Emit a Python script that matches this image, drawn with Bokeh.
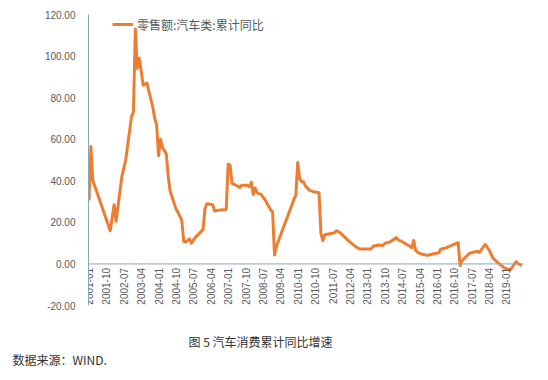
from bokeh.plotting import figure
from bokeh.models import Range1d, FixedTicker, NumeralTickFormatter, Span, Title, Legend, LegendItem, ColumnDataSource
from bokeh.core.properties import value
from bokeh.embed import file_html
from bokeh.resources import INLINE
import math

# ---- data ----
months = ["2001-01", "2001-02", "2001-03", "2001-04", "2001-12", "2002-02", "2002-03", "2002-06",
          "2002-08", "2002-10", "2002-11", "2002-12", "2003-01", "2003-02", "2003-03", "2003-04",
          "2003-05", "2003-07", "2003-08", "2003-10", "2003-11", "2003-12", "2004-01", "2004-02",
          "2004-03", "2004-05", "2004-06", "2004-07", "2004-10", "2004-11", "2005-01", "2005-02",
          "2005-03", "2005-05", "2005-06", "2005-08", "2005-12", "2006-01", "2006-02", "2006-05",
          "2006-06", "2006-09", "2006-12", "2007-01", "2007-02", "2007-03", "2007-05", "2007-07",
          "2007-08", "2007-11", "2007-12", "2008-01", "2008-02", "2008-03", "2008-04", "2008-06",
          "2008-08", "2008-11", "2008-12", "2009-01", "2009-02", "2009-11", "2009-12", "2010-01",
          "2010-02", "2010-03", "2010-04", "2010-05", "2010-07", "2010-09", "2010-12", "2011-01",
          "2011-02", "2011-03", "2011-05", "2011-08", "2011-09", "2011-11", "2012-02", "2012-04",
          "2012-07", "2012-09", "2013-03", "2013-04", "2013-07", "2013-09", "2013-10", "2014-01",
          "2014-04", "2014-05", "2014-07", "2014-11", "2014-12", "2015-01", "2015-02", "2015-03",
          "2015-05", "2015-08", "2015-11", "2016-02", "2016-03", "2016-05", "2016-09", "2016-12",
          "2017-01", "2017-02", "2017-06", "2017-10", "2017-11", "2018-02", "2018-04", "2018-06",
          "2018-09", "2018-12", "2019-03", "2019-04", "2019-06", "2019-07", "2019-09"]
yoy = [30.5, 56.5, 40.0, 37.5, 16.0, 28.5, 20.5, 42.0,
       50.0, 64.0, 71.0, 73.0, 113.0, 94.0, 99.0, 93.0,
       86.0, 87.0, 83.0, 75.5, 70.0, 67.0, 52.0, 60.0,
       56.0, 53.0, 42.0, 35.0, 26.5, 25.0, 21.0, 11.0,
       10.5, 12.0, 10.0, 12.8, 16.5, 26.5, 29.0, 28.5,
       25.5, 26.0, 26.2, 48.0, 47.5, 38.7, 37.9, 36.8,
       37.9, 37.8, 37.1, 39.3, 33.4, 36.5, 34.2, 33.5,
       31.0, 26.0, 25.0, 4.3, 8.5, 31.0, 33.0, 48.8,
       41.0, 39.5, 39.5, 37.5, 35.5, 34.8, 34.2, 14.7,
       11.2, 14.0, 14.4, 15.0, 16.0, 15.0, 12.3, 10.5,
       8.3, 7.2, 7.2, 8.5, 9.1, 8.8, 9.9, 10.7,
       12.7, 11.5, 10.7, 8.5, 7.8, 11.3, 6.5, 5.6,
       4.8, 4.1, 4.8, 5.4, 7.1, 7.5, 9.1, 10.2,
       -0.8, 1.5, 5.2, 6.1, 5.5, 9.4, 6.7, 2.8,
       0.3, -2.0, -2.9, -1.5, 1.1, 0.2, -0.8]
tick_labels = ["2001-01", "2001-10", "2002-07", "2003-04", "2004-01", "2004-10", "2005-07",
               "2006-04", "2007-01", "2007-10", "2008-07", "2009-04", "2010-01", "2010-10",
               "2011-07", "2012-04", "2013-01", "2013-10", "2014-07", "2015-04", "2016-01",
               "2016-10", "2017-07", "2018-04", "2019-01"]
y_ticks = [-20, 0, 20, 40, 60, 80, 100, 120]
series_name = "零售额:汽车类:累计同比"
caption = "图 5  汽车消费累计同比增速"
source_note = "数据来源：WIND."


def month_index(s):
    y, m = s.split("-")
    return (int(y) - 2001) * 12 + int(m) - 1


xs = [month_index(m) for m in months]
tick_x = [month_index(t) for t in tick_labels]

AXIS_COLOR = "#86A8BD"
TEXT_COLOR = "#595959"
LINE_COLOR = "#ED7D31"

p = figure(width=540, height=372, output_backend="svg", toolbar_location=None,
           x_axis_type=None, x_range=Range1d(-0.25, 224.8), y_range=Range1d(-20, 120),
           min_border_left=88, min_border_right=17, min_border_top=14, min_border_bottom=67)
p.outline_line_color = None
p.grid.visible = False
p.background_fill_color = "white"
p.border_fill_color = "white"

ax = p.yaxis[0]
ax.ticker = FixedTicker(ticks=y_ticks)
ax.formatter = NumeralTickFormatter(format="0.00")
ax.axis_line_color = AXIS_COLOR
ax.major_tick_line_color = None
ax.minor_tick_line_color = None
ax.major_tick_in = 0
ax.major_tick_out = 0
ax.major_label_standoff = 13
ax.major_label_text_font = "Liberation Sans"
ax.major_label_text_font_size = "10px"
ax.major_label_text_color = TEXT_COLOR

p.add_layout(Span(location=0, dimension="width", line_color=AXIS_COLOR, line_width=1))

src = ColumnDataSource(dict(x=xs, y=yoy))
r = p.line("x", "y", source=src, line_color=LINE_COLOR, line_width=3, line_join="round")

tsrc = ColumnDataSource(dict(x=tick_x, y=[0] * len(tick_x), t=tick_labels))
p.text("x", "y", text="t", source=tsrc, angle=math.pi / 2, text_align="right",
       text_baseline="middle", y_offset=4, text_font=value("Liberation Sans"),
       text_font_size="10px", text_color=TEXT_COLOR)

leg = Legend(items=[LegendItem(label=series_name, renderers=[r])], location=(24, 271),
             padding=0, margin=0, glyph_width=21, glyph_height=20, label_height=20,
             label_standoff=4, background_fill_alpha=0, border_line_alpha=0,
             label_text_font="Noto Sans CJK SC", label_text_font_size="12px",
             label_text_color=TEXT_COLOR)
p.add_layout(leg)

title_style = dict(text_font="Noto Sans CJK SC", text_font_size="12px",
                   text_font_style="normal", text_color="#333333")
spacer = Title(text=" ", align="left", standoff=6, **title_style)
t1 = Title(text=caption, align="left", offset=100, standoff=0, **title_style)
t2 = Title(text=source_note, align="left", offset=-76, standoff=-2, **title_style)
p.add_layout(spacer, "below")
p.add_layout(t1, "below")
p.add_layout(t2, "below")

open("out.html", "w").write(file_html(p, INLINE))
